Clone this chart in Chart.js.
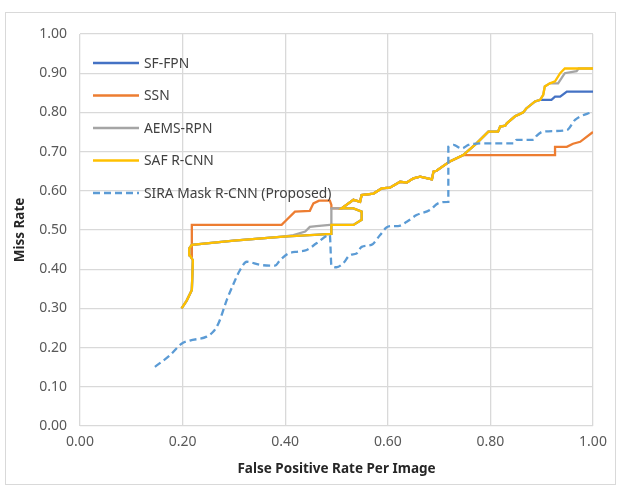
<!DOCTYPE html>
<html>
<head>
<meta charset="utf-8">
<script src="https://cdn.jsdelivr.net/npm/chart.js@4.4.1/dist/chart.umd.min.js"></script>
<style>
  html, body { margin: 0; padding: 0; background: #fff; }
  #wrap { width: 619px; height: 486px; }
</style>
</head>
<body>
<div id="wrap"><canvas id="missRateChart" width="619" height="486"></canvas></div>
<script>
// Series names, in legend order
const seriesNames = ['SF-FPN', 'SSN', 'AEMS-RPN', 'SAF R-CNN', 'SIRA Mask R-CNN (Proposed)'];
const seriesColors = ['#4472C4', '#ED7D31', '#A5A5A5', '#FFC000', '#5B9BD5'];

// Axis ticks
const xTicks = [0, 0.2, 0.4, 0.6, 0.8, 1.0];
const yTicks = [0, 0.1, 0.2, 0.3, 0.4, 0.5, 0.6, 0.7, 0.8, 0.9, 1.0];

// [false positive rate, miss rate] pieces.
// The solid curves run on top of each other for long stretches, so the shared parts are kept once.
const sharedLow = [[0.198, 0.300], [0.208, 0.320], [0.218, 0.347], [0.220, 0.423], [0.214, 0.436],
  [0.213, 0.453], [0.218, 0.462], [0.300, 0.473], [0.396, 0.483]];
const sharedRise = [[0.533, 0.577], [0.546, 0.572], [0.549, 0.589], [0.572, 0.593], [0.588, 0.606],
  [0.604, 0.608], [0.624, 0.623], [0.637, 0.621], [0.650, 0.632], [0.663, 0.636], [0.686, 0.629],
  [0.689, 0.649], [0.695, 0.651], [0.721, 0.675], [0.747, 0.691]];
const sharedTop = [[0.773, 0.721], [0.796, 0.751], [0.815, 0.751], [0.819, 0.764], [0.829, 0.766],
  [0.832, 0.772], [0.848, 0.790], [0.856, 0.795], [0.864, 0.800], [0.870, 0.810], [0.887, 0.828],
  [0.897, 0.832]];
const safMid = [[0.448, 0.487], [0.490, 0.490], [0.490, 0.513], [0.533, 0.513], [0.549, 0.526],
  [0.549, 0.547], [0.533, 0.555], [0.510, 0.555]];
const safEnd = [[0.903, 0.845], [0.906, 0.866], [0.916, 0.874], [0.926, 0.879], [0.936, 0.900],
  [0.945, 0.912], [1.000, 0.912]];
const sfFpnEnd = [[0.919, 0.832], [0.926, 0.840], [0.936, 0.840], [0.949, 0.853], [1.000, 0.853]];
const aemsMid = [[0.416, 0.487], [0.439, 0.496], [0.448, 0.508], [0.461, 0.510], [0.487, 0.513],
  [0.490, 0.513], [0.490, 0.555], [0.510, 0.555]];
const aemsEnd = [[0.903, 0.845], [0.906, 0.866], [0.916, 0.874], [0.932, 0.874], [0.945, 0.900],
  [0.968, 0.905], [0.972, 0.912], [1.000, 0.912]];
const ssnLow = [[0.218, 0.430], [0.218, 0.513], [0.393, 0.513], [0.403, 0.526], [0.419, 0.547],
  [0.448, 0.549], [0.455, 0.568], [0.466, 0.575], [0.487, 0.575], [0.490, 0.564], [0.490, 0.555],
  [0.510, 0.555]];
const ssnEnd = [[0.926, 0.691], [0.926, 0.712], [0.949, 0.712], [0.961, 0.720], [0.975, 0.725],
  [1.000, 0.750]];
const siraPoints = [[0.146, 0.151], [0.175, 0.180], [0.198, 0.210], [0.214, 0.218], [0.247, 0.228],
  [0.260, 0.241], [0.270, 0.262], [0.286, 0.321], [0.300, 0.365], [0.312, 0.398], [0.325, 0.419],
  [0.351, 0.411], [0.380, 0.409], [0.390, 0.423], [0.406, 0.440], [0.426, 0.445], [0.442, 0.449],
  [0.461, 0.466], [0.487, 0.487], [0.490, 0.411], [0.500, 0.405], [0.513, 0.415], [0.526, 0.436],
  [0.539, 0.440], [0.549, 0.457], [0.568, 0.462], [0.585, 0.487], [0.598, 0.507], [0.610, 0.510],
  [0.620, 0.510], [0.637, 0.521], [0.656, 0.538], [0.682, 0.551], [0.698, 0.568], [0.718, 0.572],
  [0.718, 0.712], [0.728, 0.717], [0.744, 0.708], [0.757, 0.717], [0.780, 0.721], [0.845, 0.721],
  [0.851, 0.730], [0.884, 0.730], [0.890, 0.740], [0.903, 0.751], [0.949, 0.755], [0.965, 0.781],
  [1.000, 0.802]];

const safPoints = [...sharedLow, ...safMid, ...sharedRise, ...sharedTop, ...safEnd];
const sfFpnPoints = [...sharedLow, ...safMid, ...sharedRise, ...sharedTop, ...sfFpnEnd];
const aemsPoints = [...sharedLow, ...aemsMid, ...sharedRise, ...sharedTop, ...aemsEnd];
const ssnPoints = [...ssnLow, ...sharedRise, ...ssnEnd];

const toXY = pts => pts.map(p => ({ x: p[0], y: p[1] }));
const allPoints = [sfFpnPoints, ssnPoints, aemsPoints, safPoints, siraPoints];

const FONT = '"Noto Sans", "Open Sans", sans-serif';

// Excel draws later series on top; in Chart.js a lower "order" is drawn on top
const datasets = allPoints.map((pts, i) => ({
  label: seriesNames[i],
  data: toXY(pts),
  showLine: true,
  borderColor: seriesColors[i],
  backgroundColor: seriesColors[i],
  borderWidth: 2.3,
  pointRadius: 0,
  borderDash: i === 4 ? [7, 4] : [],
  cubicInterpolationMode: i === 4 ? 'monotone' : 'default',
  tension: 0,
  order: 5 - i
}));

// Background and the thin frame around the whole chart
const frame = {
  id: 'frame',
  beforeDraw(chart) {
    const c = chart.ctx;
    c.save();
    c.fillStyle = '#fff';
    c.fillRect(0, 0, chart.width, chart.height);
    c.strokeStyle = '#d9d9d9';
    c.lineWidth = 1;
    c.strokeRect(5.5, 12.5, chart.width - 9, chart.height - 14);
    c.restore();
  }
};

// Legend sits inside the plot area, top left
const insideLegend = {
  id: 'insideLegend',
  afterDraw(chart) {
    const c = chart.ctx;
    const area = chart.chartArea;
    c.save();
    c.font = '13.8px ' + FONT;
    c.textBaseline = 'middle';
    seriesNames.forEach((name, i) => {
      const y = area.top + 29 + i * 32.5;
      const x = area.left + 13;
      c.strokeStyle = seriesColors[i];
      c.lineWidth = 2.3;
      c.setLineDash(i === 4 ? [7, 4] : []);
      c.beginPath();
      c.moveTo(x, y);
      c.lineTo(x + 46, y);
      c.stroke();
      c.fillStyle = '#404040';
      c.fillText(name, x + 51, y + 1);
    });
    c.restore();
  }
};

const ctx = document.getElementById('missRateChart').getContext('2d');
new Chart(ctx, {
  type: 'scatter',
  data: { datasets },
  plugins: [frame, insideLegend],
  options: {
    responsive: false,
    animation: false,
    devicePixelRatio: 1,
    layout: { padding: { left: 0, top: 34, right: 26, bottom: 0 } },
    plugins: {
      legend: { display: false },
      tooltip: { enabled: false }
    },
    scales: {
      x: {
        type: 'linear',
        min: 0,
        max: 1,
        afterBuildTicks: s => { s.ticks = xTicks.map(v => ({ value: v })); },
        afterFit: s => { s.height = 60; },
        ticks: {
          callback: v => v.toFixed(2),
          color: '#595959',
          font: { family: FONT, size: 14 },
          padding: 8,
          maxRotation: 0
        },
        grid: { color: '#d9d9d9', lineWidth: 1.3, drawTicks: false },
        border: { display: false },
        title: {
          display: true,
          text: 'False Positive Rate Per Image',
          color: '#262626',
          font: { family: FONT, size: 13.5, weight: 'bold' },
          padding: { top: 0, bottom: 9 }
        }
      },
      y: {
        type: 'linear',
        min: 0,
        max: 1,
        afterBuildTicks: s => { s.ticks = yTicks.map(v => ({ value: v })); },
        afterFit: s => { s.width = 80; },
        ticks: {
          callback: v => v.toFixed(2),
          color: '#595959',
          font: { family: FONT, size: 14 },
          padding: 13
        },
        grid: { color: '#d9d9d9', lineWidth: 1.3, drawTicks: false },
        border: { display: false },
        title: {
          display: true,
          text: 'Miss Rate',
          color: '#262626',
          font: { family: FONT, size: 13.5, weight: 'bold' },
          padding: { top: 12, bottom: 0 }
        }
      }
    }
  }
});
</script>
</body>
</html>
